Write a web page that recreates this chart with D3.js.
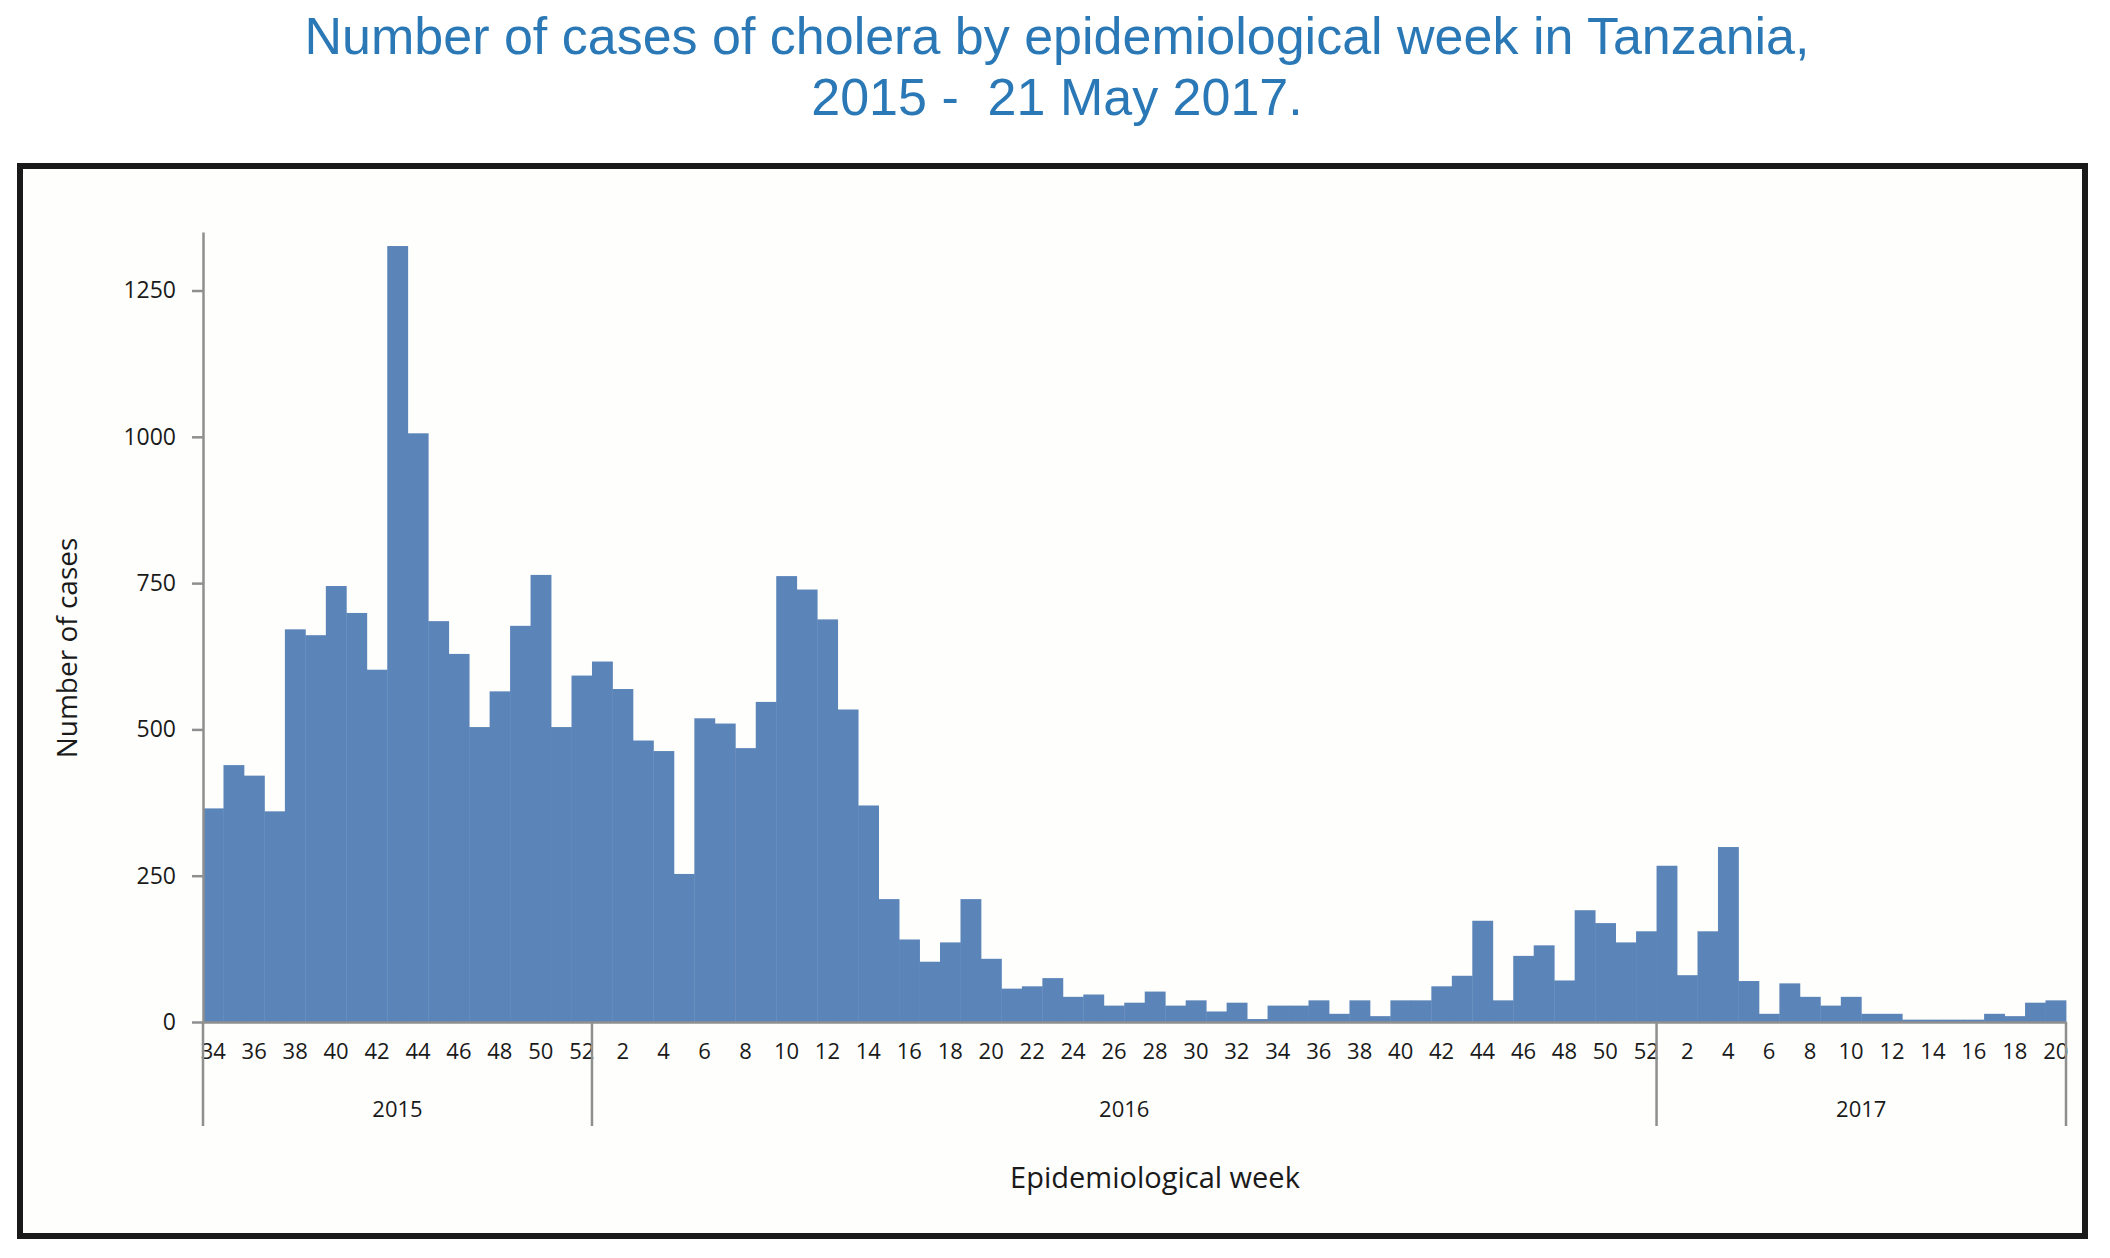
<!DOCTYPE html>
<html lang="en">
<head>
   <meta charset="UTF-8">
   <title>Cholera cases by epidemiological week, Tanzania</title>
   <script src="https://cdn.jsdelivr.net/npm/d3@7"></script>
   <style>
       body { margin: 0; background: #ffffff; }
       svg { display: block; }
   </style>
</head>
<body>
   <svg id="chart" width="2110" height="1258"></svg>

   <script>
       // weeks shown for each year
       const weeks2015 = [34, 35, 36, 37, 38, 39, 40, 41, 42, 43, 44, 45, 46, 47, 48, 49, 50, 51, 52];
       const weeks2016 = [1, 2, 3, 4, 5, 6, 7, 8, 9, 10, 11, 12, 13, 14, 15, 16, 17, 18, 19, 20,
                          21, 22, 23, 24, 25, 26, 27, 28, 29, 30, 31, 32, 33, 34, 35, 36, 37, 38, 39, 40,
                          41, 42, 43, 44, 45, 46, 47, 48, 49, 50, 51, 52];
       const weeks2017 = [1, 2, 3, 4, 5, 6, 7, 8, 9, 10, 11, 12, 13, 14, 15, 16, 17, 18, 19, 20];

       // cases per week
       const cases2015 = [365, 439, 421, 360, 671, 661, 745, 699, 602, 1326, 1006, 685, 629, 504, 565, 677, 764, 504, 592];
       const cases2016 = [616, 569, 481, 463, 253, 519, 510, 468, 547, 762, 739, 688, 534, 370, 210, 141, 103, 136, 210, 108,
                          57, 61, 75, 43, 47, 28, 33, 52, 28, 37, 18, 33, 5, 28, 28, 37, 14, 37, 10, 37,
                          37, 61, 79, 173, 37, 113, 131, 71, 191, 169, 136, 155];
       const cases2017 = [267, 80, 155, 299, 70, 14, 66, 43, 28, 43, 14, 14, 4, 4, 4, 4, 14, 10, 33, 37];

       const years = ["2015", "2016", "2017"];
       const yTicks = [0, 250, 500, 750, 1000, 1250];

       // flat table for the band scale
       const data = [];
       [[weeks2015, cases2015], [weeks2016, cases2016], [weeks2017, cases2017]].forEach(([wk, cs], i) => {
           wk.forEach((w, j) => data.push({ year: years[i], week: w, key: years[i] + "-" + w, cases: cs[j] }));
       });

       const svg = d3.select("#chart");
       const fontTick = "'Open Sans', 'DejaVu Sans', sans-serif";

       // title
       const title = svg.append("g")
           .attr("fill", "#2a78b6")
           .attr("font-family", "'Liberation Sans', Arial, sans-serif")
           .attr("font-size", 52)
           .attr("text-anchor", "middle");
       title.append("text").attr("x", 1057).attr("y", 54)
           .text("Number of cases of cholera by epidemiological week in Tanzania,");
       title.append("text").attr("x", 1057).attr("y", 115)
           .attr("xml:space", "preserve")
           .text("2015 -  21 May 2017.");

       // frame
       svg.append("rect")
           .attr("x", 20).attr("y", 166)
           .attr("width", 2065).attr("height", 1070)
           .attr("fill", "#fefefd")
           .attr("stroke", "#1a1a1a")
           .attr("stroke-width", 6);

       const x = d3.scaleBand()
           .domain(data.map(d => d.key))
           .range([203, 2066])
           .padding(0);

       const y = d3.scaleLinear()
           .domain([0, 1350])
           .range([1022, 232]);

       // bars
       svg.append("g")
           .selectAll("rect")
           .data(data)
           .join("rect")
           .attr("x", d => x(d.key))
           .attr("y", d => y(d.cases))
           .attr("width", x.bandwidth() + 0.4)
           .attr("height", d => y(0) - y(d.cases))
           .attr("fill", "#5b84b9");

       // y axis
       const yAxis = svg.append("g")
           .attr("transform", `translate(${x.range()[0]},0)`)
           .call(d3.axisLeft(y).tickValues(yTicks).tickFormat(d3.format("d"))
               .tickSize(11).tickSizeOuter(0).tickPadding(16));
       yAxis.select(".domain").attr("stroke", "#8f8f8f").attr("stroke-width", 2.5);
       yAxis.selectAll(".tick line").attr("stroke", "#8f8f8f").attr("stroke-width", 2.5);
       yAxis.selectAll(".tick text")
           .attr("font-family", fontTick)
           .attr("font-size", 23)
           .attr("fill", "#1a1a1a");

       // x axis: even weeks labelled
       const xAxis = svg.append("g")
           .attr("transform", `translate(0,${y(0)})`)
           .call(d3.axisBottom(x)
               .tickValues(data.filter(d => d.week % 2 === 0).map(d => d.key))
               .tickFormat(k => k.split("-")[1])
               .tickSize(0)
               .tickSizeOuter(0)
               .tickPadding(21));
       xAxis.select(".domain").attr("stroke", "#8f8f8f").attr("stroke-width", 2.5);
       xAxis.selectAll(".tick text")
           .attr("font-family", fontTick)
           .attr("font-size", 22)
           .attr("fill", "#1a1a1a");

       // year separators and labels
       const yearSpans = years.map(yr => {
           const keys = data.filter(d => d.year === yr).map(d => d.key);
           return { year: yr, x0: x(keys[0]), x1: x(keys[keys.length - 1]) + x.bandwidth() };
       });
       const edges = [yearSpans[0].x0].concat(yearSpans.map(s => s.x1));
       svg.append("g")
           .selectAll("line")
           .data(edges)
           .join("line")
           .attr("x1", d => d).attr("x2", d => d)
           .attr("y1", y(0)).attr("y2", 1126)
           .attr("stroke", "#8f8f8f")
           .attr("stroke-width", 2.5);
       svg.append("g")
           .selectAll("text")
           .data(yearSpans)
           .join("text")
           .attr("x", d => (d.x0 + d.x1) / 2)
           .attr("y", 1117)
           .attr("text-anchor", "middle")
           .attr("font-family", fontTick)
           .attr("font-size", 22)
           .attr("fill", "#1a1a1a")
           .text(d => d.year);

       // axis titles
       svg.append("text")
           .attr("x", 1155).attr("y", 1188)
           .attr("text-anchor", "middle")
           .attr("font-family", fontTick)
           .attr("font-size", 29)
           .attr("fill", "#1a1a1a")
           .text("Epidemiological week");

       svg.append("text")
           .attr("transform", "translate(77,648) rotate(-90)")
           .attr("text-anchor", "middle")
           .attr("font-family", fontTick)
           .attr("font-size", 28)
           .attr("fill", "#1a1a1a")
           .text("Number of cases");
   </script>
</body>
</html>
